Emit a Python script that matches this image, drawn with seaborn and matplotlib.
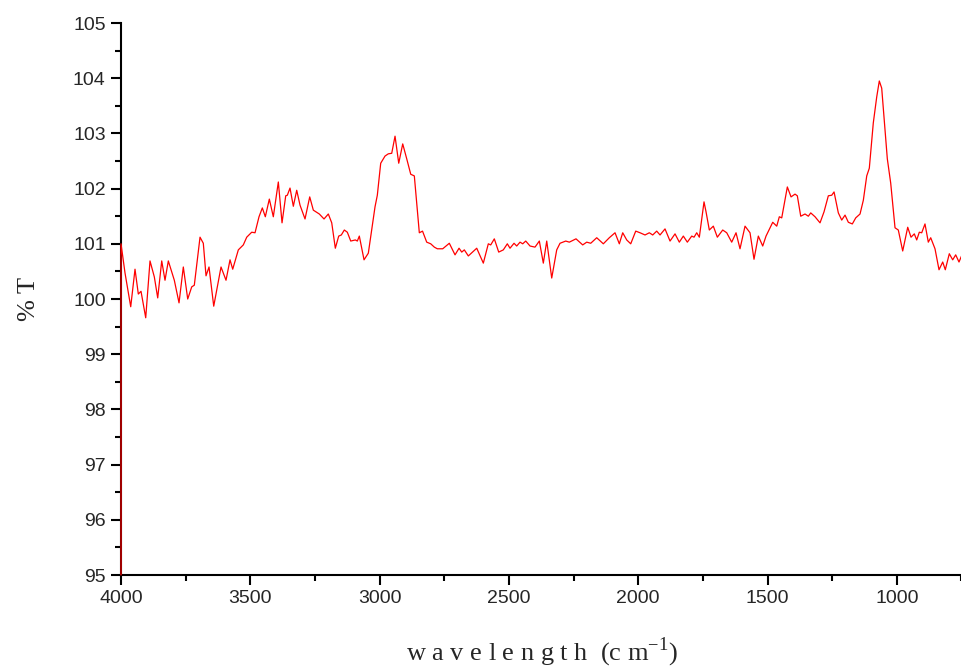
import numpy as np
import pandas as pd
import matplotlib
matplotlib.use("Agg")
import matplotlib.pyplot as plt
from matplotlib.ticker import MultipleLocator
import seaborn as sns

# Wavenumber (cm-1) and %T
wavenumber = [4000.0, 4000.0, 3984.5, 3962.5, 3945.9, 3933.1, 3922.7, 3904.5, 3887.9, 3871.2, 3858.1,
              3842.6, 3829.9, 3817.1, 3793.9, 3775.7, 3759.1, 3742.1, 3726.6, 3716.6, 3694.5,
              3681.8, 3671.3, 3659.7, 3641.5, 3613.3, 3594.0, 3578.5, 3568.1, 3546.4, 3527.1,
              3513.9, 3494.6, 3481.8, 3466.4, 3453.6, 3442.0, 3426.5, 3411.1, 3391.7, 3377.4,
              3363.1, 3356.9, 3346.5, 3333.7, 3320.6, 3307.8, 3288.5, 3270.3, 3256.4, 3233.2,
              3215.0, 3198.4, 3185.2, 3171.3, 3158.2, 3148.1, 3136.5, 3124.9, 3111.7, 3093.9,
              3086.2, 3078.5, 3060.3, 3043.7, 3017.8, 3008.9, 2995.8, 2979.1, 2966.4, 2953.2,
              2940.4, 2926.1, 2910.7, 2895.2, 2879.7, 2865.8, 2846.5, 2834.1, 2817.9, 2802.4,
              2788.5, 2776.9, 2756.0, 2730.5, 2708.4, 2692.9, 2682.5, 2672.5, 2657.0, 2624.5,
              2599.0, 2579.7, 2570.4, 2556.5, 2539.5, 2521.7, 2506.2, 2495.8, 2480.3, 2469.9,
              2457.1, 2446.7, 2435.0, 2418.4, 2399.1, 2382.4, 2367.0, 2353.8, 2334.5, 2315.2,
              2302.4, 2280.3, 2266.5, 2240.6, 2214.7, 2199.2, 2183.7, 2160.5, 2135.0, 2111.8,
              2089.7, 2073.1, 2060.0, 2044.5, 2029.0, 2009.7, 1993.0, 1973.7, 1957.1, 1944.0,
              1928.5, 1915.7, 1896.4, 1877.0, 1857.7, 1841.1, 1825.6, 1810.1, 1793.1, 1784.2,
              1773.8, 1763.7, 1745.6, 1737.8, 1725.1, 1709.6, 1694.1, 1673.3, 1657.8, 1638.5,
              1621.8, 1606.4, 1587.0, 1567.7, 1552.3, 1535.6, 1518.6, 1505.8, 1479.9, 1464.4,
              1454.4, 1445.1, 1423.4, 1409.1, 1393.7, 1384.8, 1371.6, 1355.0, 1342.2, 1332.9,
              1316.3, 1297.0, 1281.5, 1264.9, 1251.7, 1242.8, 1226.2, 1213.1, 1200.3, 1187.5,
              1172.1, 1158.9, 1142.3, 1129.5, 1116.4, 1106.4, 1091.0, 1077.8, 1067.8, 1058.5,
              1049.6, 1036.8, 1023.7, 1007.0, 994.3, 977.3, 957.9, 945.2, 932.4, 923.1,
              913.1, 903.8, 891.1, 878.3, 869.0, 852.4, 836.9, 822.6, 812.6, 797.1,
              784.0, 772.4, 759.6, 748.0]
transmittance = [95.00, 101.00, 100.47, 99.86, 100.54, 100.09, 100.14, 99.66, 100.69, 100.40, 100.02,
                 100.69, 100.34, 100.69, 100.34, 99.93, 100.58, 100.00, 100.22, 100.25, 101.12,
                 101.01, 100.42, 100.58, 99.87, 100.58, 100.34, 100.71, 100.54, 100.89, 100.98,
                 101.12, 101.21, 101.20, 101.49, 101.65, 101.49, 101.81, 101.49, 102.12, 101.38,
                 101.87, 101.88, 102.01, 101.68, 101.97, 101.70, 101.45, 101.85, 101.61, 101.54,
                 101.45, 101.54, 101.38, 100.92, 101.14, 101.16, 101.25, 101.21, 101.05, 101.07,
                 101.05, 101.14, 100.71, 100.83, 101.67, 101.88, 102.46, 102.59, 102.63, 102.64,
                 102.95, 102.46, 102.81, 102.54, 102.26, 102.23, 101.20, 101.23, 101.03, 101.00,
                 100.94, 100.91, 100.91, 101.01, 100.80, 100.92, 100.85, 100.89, 100.78, 100.92,
                 100.65, 101.00, 100.98, 101.09, 100.85, 100.89, 101.00, 100.92, 101.01, 100.96,
                 101.03, 101.00, 101.05, 100.96, 100.94, 101.05, 100.65, 101.05, 100.38, 100.89,
                 101.01, 101.05, 101.03, 101.09, 100.98, 101.03, 101.01, 101.11, 101.00, 101.11,
                 101.20, 101.00, 101.20, 101.07, 101.00, 101.23, 101.20, 101.16, 101.20, 101.16,
                 101.23, 101.16, 101.27, 101.05, 101.18, 101.03, 101.14, 101.03, 101.14, 101.12,
                 101.20, 101.12, 101.76, 101.58, 101.25, 101.32, 101.12, 101.25, 101.20, 101.03,
                 101.20, 100.91, 101.32, 101.20, 100.72, 101.14, 100.96, 101.14, 101.39, 101.32,
                 101.49, 101.47, 102.03, 101.85, 101.90, 101.87, 101.50, 101.54, 101.50, 101.56,
                 101.49, 101.38, 101.58, 101.87, 101.88, 101.94, 101.56, 101.43, 101.52, 101.39,
                 101.36, 101.47, 101.54, 101.79, 102.23, 102.37, 103.19, 103.66, 103.95, 103.82,
                 103.30, 102.54, 102.10, 101.29, 101.25, 100.87, 101.30, 101.12, 101.18, 101.07,
                 101.21, 101.20, 101.36, 101.03, 101.11, 100.91, 100.53, 100.67, 100.53, 100.82,
                 100.71, 100.80, 100.67, 100.80]

x_ticks = [4000, 3500, 3000, 2500, 2000, 1500, 1000]
y_ticks = [95, 96, 97, 98, 99, 100, 101, 102, 103, 104, 105]

df = pd.DataFrame({"wavenumber": wavenumber, "T": transmittance})

sns.set_style("ticks")
plt.rcParams["font.family"] = ["Liberation Sans", "DejaVu Sans"]
plt.rcParams["mathtext.fontset"] = "custom"
plt.rcParams["mathtext.rm"] = "Liberation Serif"

fig = plt.figure(figsize=(9.62, 6.69), dpi=100)
ax = fig.add_axes([0.1258, 0.1405, 0.8742, 0.8251])

sns.lineplot(data=df, x="wavenumber", y="T", sort=False, estimator=None,
             color="#ff0000", linewidth=0.9, ax=ax, zorder=3)
for ln in ax.lines:
    ln.set_clip_on(False)

ax.set_xlim(4000, 748)
ax.set_ylim(95, 105)
ax.set_xticks(x_ticks)
ax.set_yticks(y_ticks)
ax.xaxis.set_minor_locator(MultipleLocator(250))
ax.yaxis.set_minor_locator(MultipleLocator(0.5))
ax.tick_params(axis="both", which="major", direction="out", length=7, width=1.5,
               labelsize=14, color="black", pad=4)
ax.tick_params(axis="both", which="minor", direction="out", length=4, width=1.5, color="black")

for side in ["top", "right"]:
    ax.spines[side].set_visible(False)
for side in ["left", "bottom"]:
    ax.spines[side].set_linewidth(1.5)
    ax.spines[side].set_color("black")
    ax.spines[side].set_zorder(2.5)

serif = ["Liberation Serif", "DejaVu Serif"]
ax.set_xlabel(r"w a v e l e n g t h  (c m$^{\mathregular{-1}}$)", fontsize=19,
              family=serif, labelpad=20)
ax.set_ylabel("% T", fontsize=19, family=serif, labelpad=24)

fig.savefig("out.png", dpi=100)
